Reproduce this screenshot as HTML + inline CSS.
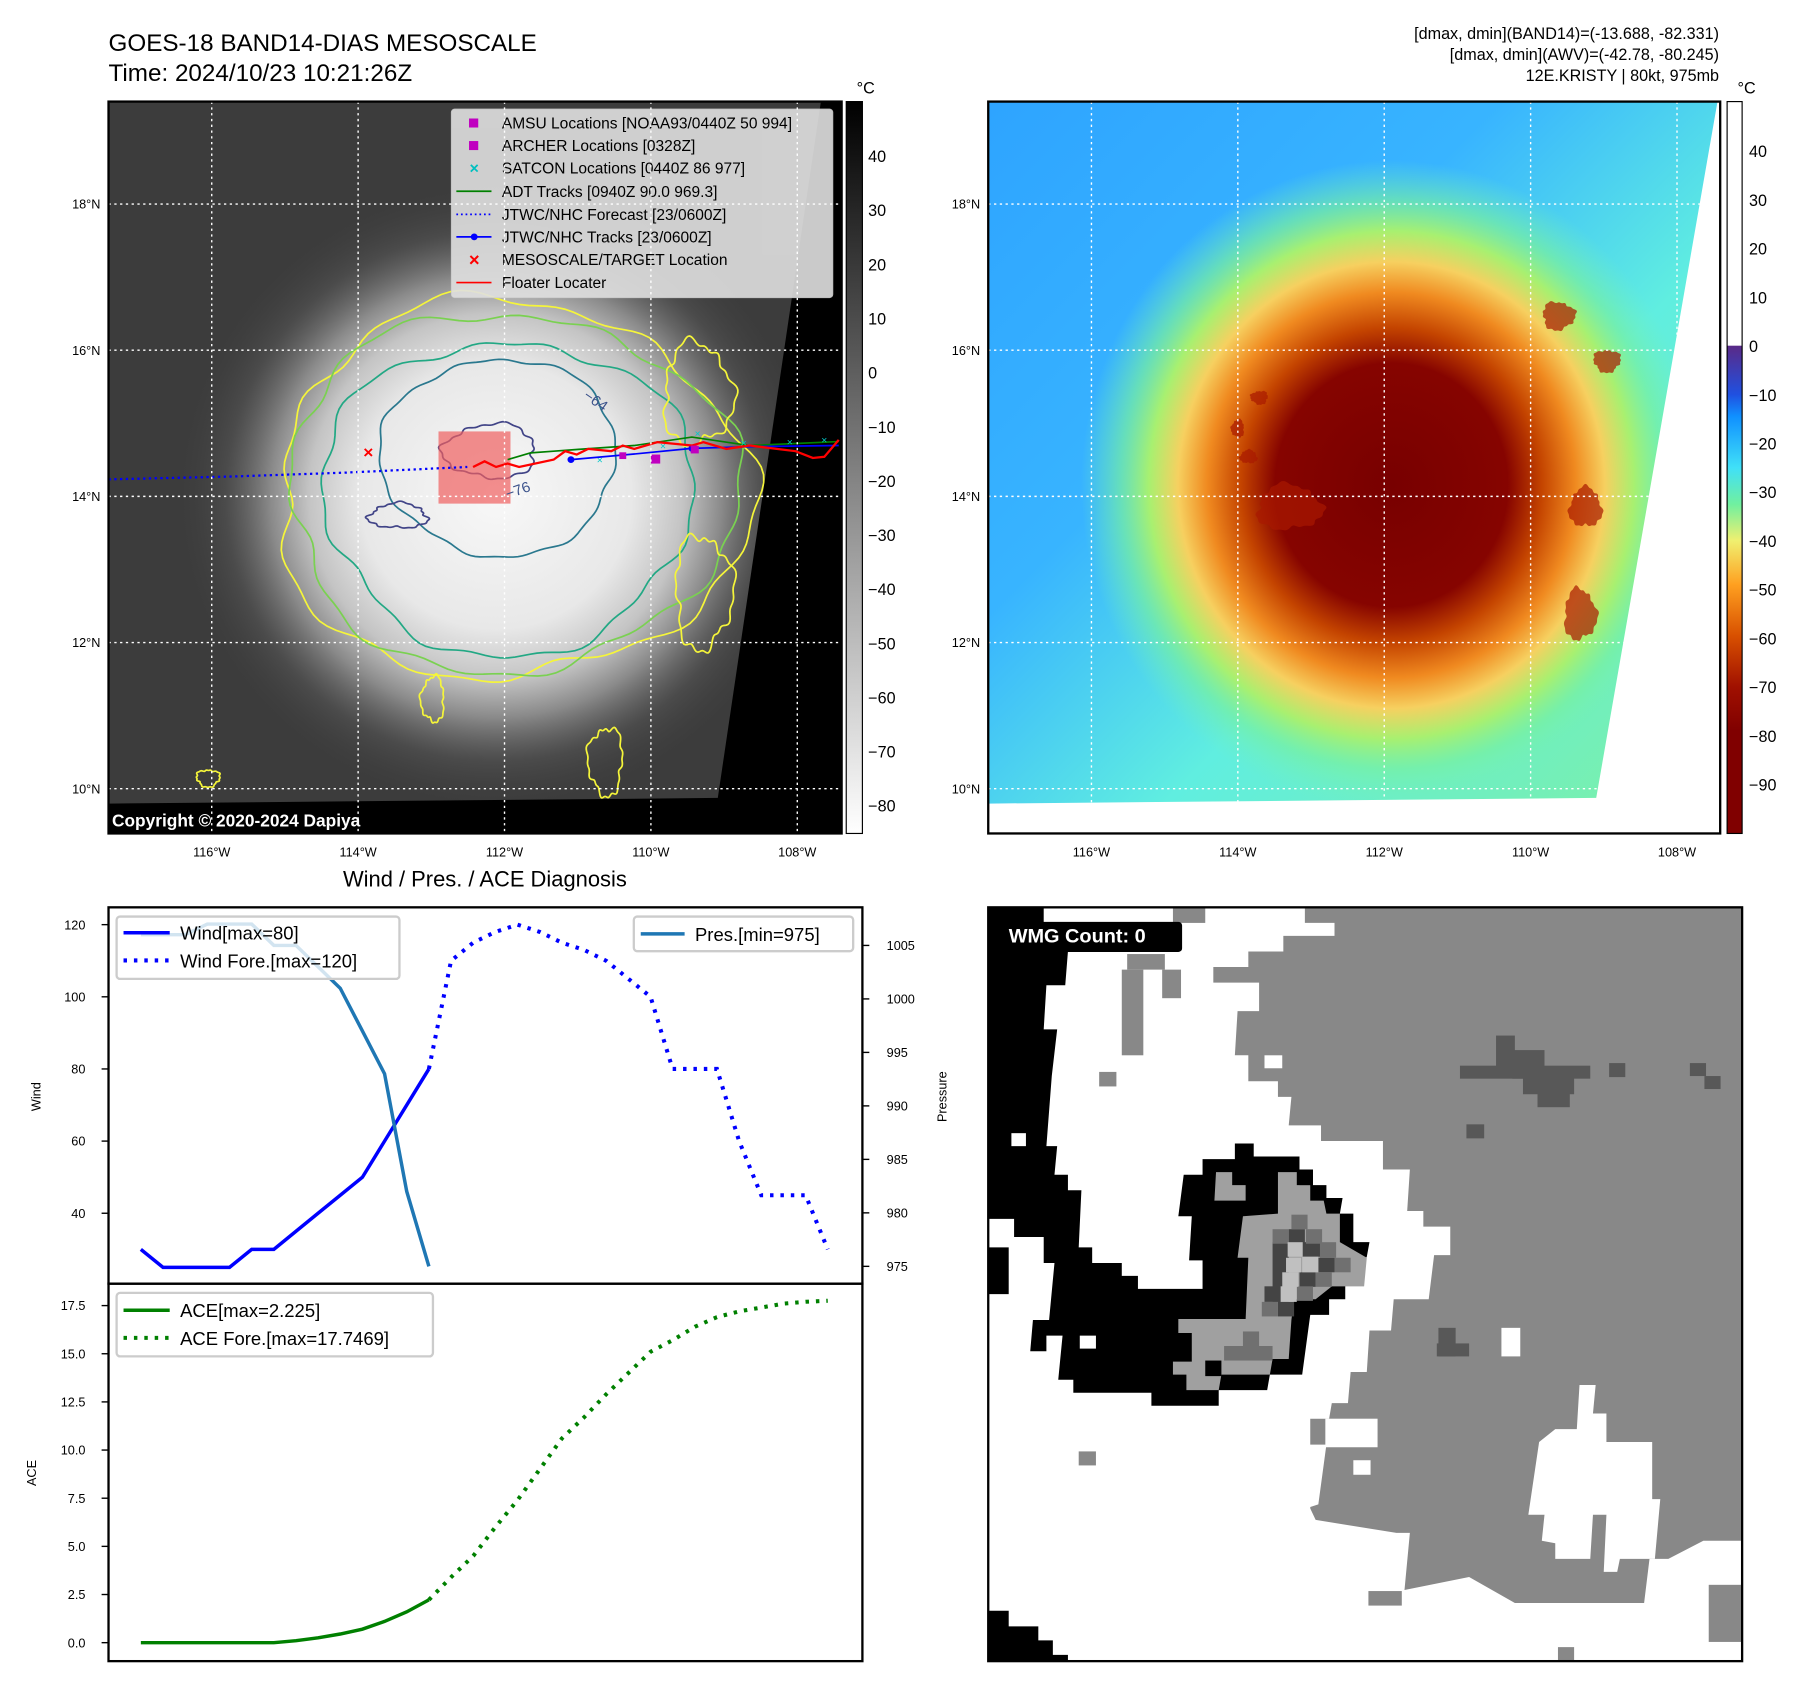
<!DOCTYPE html>
<html><head><meta charset="utf-8"><title>GOES-18 BAND14 KRISTY</title>
<style>html,body{margin:0;padding:0;background:#fff}svg{display:block;font-family:"Liberation Sans","DejaVu Sans",sans-serif}</style>
</head><body>
<svg id="root" width="1801" height="1690" viewBox="0 0 1560 1464" preserveAspectRatio="none" xmlns="http://www.w3.org/2000/svg">
<defs>
<radialGradient id="g1" cx="860" cy="880" r="560" gradientUnits="userSpaceOnUse">
<stop offset="0" stop-color="#f8f8f8"/><stop offset="0.42" stop-color="#e8e8e8"/><stop offset="0.58" stop-color="#c4c4c4"/><stop offset="0.7" stop-color="#8a8a8a"/><stop offset="0.84" stop-color="#555" stop-opacity="0.6"/><stop offset="1" stop-color="#3c3c3c" stop-opacity="0"/></radialGradient>
<linearGradient id="g2base" x1="0" y1="0" x2="1" y2="1">
<stop offset="0" stop-color="#2ea4ff"/><stop offset="0.35" stop-color="#38b4ff"/><stop offset="0.6" stop-color="#60eee0"/><stop offset="1" stop-color="#80f0a0"/></linearGradient>
<radialGradient id="g2" cx="790" cy="860" r="900" gradientUnits="userSpaceOnUse">
<stop offset="0" stop-color="#780000"/><stop offset="0.24" stop-color="#860400"/><stop offset="0.31" stop-color="#c44400"/><stop offset="0.38" stop-color="#f08a20"/><stop offset="0.44" stop-color="#f6d060"/><stop offset="0.5" stop-color="#a8f070"/><stop offset="0.56" stop-color="#78f0a0" stop-opacity="0.7"/><stop offset="0.64" stop-color="#70f0c0" stop-opacity="0"/></radialGradient>
<linearGradient id="cb1" x1="0" y1="0" x2="0" y2="1"><stop offset="0" stop-color="#000"/><stop offset="1" stop-color="#fff"/></linearGradient>
<linearGradient id="cb2" x1="0" y1="0" x2="0" y2="1">
<stop offset="0" stop-color="#fff"/><stop offset="0.333" stop-color="#fff"/><stop offset="0.334" stop-color="#5a2a88"/><stop offset="0.4" stop-color="#2050e0"/><stop offset="0.43" stop-color="#1090ff"/><stop offset="0.5" stop-color="#40e0f8"/><stop offset="0.55" stop-color="#70f0a0"/><stop offset="0.6" stop-color="#f0f070"/><stop offset="0.66" stop-color="#ffa020"/><stop offset="0.73" stop-color="#d85000"/><stop offset="0.8" stop-color="#a01000"/><stop offset="0.86" stop-color="#800000"/><stop offset="1" stop-color="#800000"/></linearGradient>
</defs>

<text x="94" y="44" font-size="21">GOES-18 BAND14-DIAS MESOSCALE</text>
<text x="94" y="70" font-size="21">Time: 2024/10/23 10:21:26Z</text>
<g font-size="14" text-anchor="end">
<text x="1489" y="34">[dmax, dmin](BAND14)=(-13.688, -82.331)</text>
<text x="1489" y="52">[dmax, dmin](AWV)=(-42.78, -80.245)</text>
<text x="1489" y="70">12E.KRISTY | 80kt, 975mb</text></g>

<svg id="map1" x="94" y="88" width="635" height="634" viewBox="187 180 1273 1298" preserveAspectRatio="none">
<rect x="187" y="180" width="1273" height="1298" fill="#3c3c3c"/>
<circle cx="860" cy="880" r="560" fill="url(#g1)"/>
<g id="contours1" fill="none" stroke-width="3"></g>
<polygon points="1424,180 1460,180 1460,1478 187,1478 187,1425 1245,1415" fill="#000"/>
<rect x="760" y="765" width="125" height="128" fill="#f06060" opacity="0.7"/>
<polyline points="187,850 400,845 600,838 810,828" fill="none" stroke="#0000ff" stroke-width="4" stroke-dasharray="4,6"/>
<polyline points="880,815 920,803 960,800 1000,797 1100,790 1200,775 1300,790 1455,783" fill="none" stroke="#008000" stroke-width="3"/>
<polyline points="990,815 1100,805 1200,795 1300,792 1455,790" fill="none" stroke="#0000ff" stroke-width="3"/>
<circle cx="990" cy="815" r="6" fill="#0000ff"/><circle cx="1200" cy="795" r="6" fill="#0000ff"/>
<polyline points="820,828 840,818 860,828 880,822 900,828 960,815 980,800 1000,806 1020,796 1060,800 1080,790 1100,796 1140,784 1200,790 1220,784 1260,796 1300,790 1380,800 1410,812 1430,810 1455,780" fill="none" stroke="#ff0000" stroke-width="4"/>
<g fill="#00c8c8" font-size="18" text-anchor="middle"><text x="1040" y="822">×</text><text x="1150" y="797">×</text><text x="1210" y="775">×</text><text x="1290" y="792">×</text><text x="1370" y="790">×</text><text x="1430" y="786">×</text></g>
<g fill="#c000c0"><rect x="1129" y="806" width="16" height="16"/><rect x="1074" y="802" width="12" height="12"/><rect x="1198" y="790" width="14" height="14"/></g>
<text x="638" y="812" fill="#ff0000" font-size="30" font-weight="bold" text-anchor="middle">×</text>
<text x="1010" y="705" fill="#3b528b" font-size="26" transform="rotate(35 1010 705)">−64</text>
<text x="880" y="885" fill="#3b528b" font-size="26" transform="rotate(-20 880 885)">−76</text>
<g>
<rect x="782" y="193" width="663" height="335" rx="6" fill="#e0e0e0" opacity="0.9" stroke="#c8c8c8"/>
<g font-size="27">
<rect x="813" y="210" width="16" height="16" fill="#c000c0"/><text x="870" y="228">AMSU Locations [NOAA93/0440Z 50 994]</text>
<rect x="813" y="250" width="16" height="16" fill="#c000c0"/><text x="870" y="268">ARCHER Locations [0328Z]</text>
<text x="822" y="308" fill="#00c0c0" text-anchor="middle" font-size="28" font-weight="bold">×</text><text x="870" y="308">SATCON Locations [0440Z 86 977]</text>
<line x1="791" y1="339" x2="852" y2="339" stroke="#008000" stroke-width="3"/><text x="870" y="349">ADT Tracks [0940Z 90.0 969.3]</text>
<line x1="791" y1="380" x2="852" y2="380" stroke="#0000ff" stroke-width="3" stroke-dasharray="3,5"/><text x="870" y="390">JTWC/NHC Forecast [23/0600Z]</text>
<line x1="791" y1="420" x2="852" y2="420" stroke="#0000ff" stroke-width="3"/><circle cx="822" cy="420" r="6" fill="#0000ff"/><text x="870" y="430">JTWC/NHC Tracks [23/0600Z]</text>
<text x="822" y="472" fill="#ff0000" text-anchor="middle" font-size="32" font-weight="bold">×</text><text x="870" y="470">MESOSCALE/TARGET Location</text>
<line x1="791" y1="501" x2="852" y2="501" stroke="#ff0000" stroke-width="3"/><text x="870" y="511">Floater Locater</text>
</g></g>
</svg>
<text x="97" y="716" fill="#fff" font-size="15" font-weight="bold">Copyright © 2020-2024 Dapiya</text>

<svg id="map2" x="856" y="88" width="634" height="634" viewBox="42 180 1358 1298" preserveAspectRatio="none">
<rect x="42" y="180" width="1358" height="1298" fill="url(#g2base)"/>
<rect x="42" y="180" width="1358" height="1298" fill="url(#g2)"/>
<g id="blobs2"></g>
<polygon points="1395,180 1400,180 1400,1478 42,1478 42,1425 1170,1415" fill="#fff"/>
</svg>

<g id="grid" stroke="#fff" stroke-width="1.2" stroke-dasharray="2,3"></g>
<rect x="94" y="88" width="635" height="634" fill="none" stroke="#000" stroke-width="2"/>
<rect x="856" y="88" width="634" height="634" fill="none" stroke="#000" stroke-width="2"/>
<g id="maplabels" font-size="11"></g>

<rect x="733" y="88" width="14" height="634" fill="url(#cb1)" stroke="#000" stroke-width="1"/>
<text x="742" y="81" font-size="14">°C</text>
<rect x="1496" y="88" width="13" height="634" fill="url(#cb2)" stroke="#000" stroke-width="1"/>
<text x="1505" y="81" font-size="14">°C</text>
<g id="cblabels" font-size="14"></g>

<text x="420" y="768" font-size="19" text-anchor="middle">Wind / Pres. / ACE Diagnosis</text>
<g id="chart"></g>
<rect x="94" y="786" width="653" height="326" fill="none" stroke="#000" stroke-width="2"/>
<rect x="94" y="1112" width="653" height="327" fill="none" stroke="#000" stroke-width="2"/>
<text x="35" y="950" font-size="11" text-anchor="middle" transform="rotate(-90 35 950)">Wind</text>
<text x="820" y="950" font-size="11" text-anchor="middle" transform="rotate(-90 820 950)">Pressure</text>
<text x="31" y="1276" font-size="11" text-anchor="middle" transform="rotate(-90 31 1276)">ACE</text>
<g>
<rect x="101" y="794" width="245" height="54" rx="3" fill="#fff" fill-opacity="0.8" stroke="#ccc" stroke-width="2"/>
<line x1="107" y1="808" x2="147" y2="808" stroke="#0000ff" stroke-width="3"/><text x="156" y="814" font-size="16">Wind[max=80]</text>
<line x1="107" y1="832" x2="147" y2="832" stroke="#0000ff" stroke-width="3.5" stroke-dasharray="3,6"/><text x="156" y="838" font-size="16">Wind Fore.[max=120]</text></g>
<g>
<rect x="549" y="794" width="190" height="30" rx="3" fill="#fff" fill-opacity="0.8" stroke="#ccc" stroke-width="2"/>
<line x1="555" y1="809" x2="593" y2="809" stroke="#1f77b4" stroke-width="3"/><text x="602" y="815" font-size="16">Pres.[min=975]</text></g>
<g>
<rect x="101" y="1120" width="274" height="55" rx="3" fill="#fff" fill-opacity="0.8" stroke="#ccc" stroke-width="2"/>
<line x1="107" y1="1135" x2="147" y2="1135" stroke="#008000" stroke-width="3"/><text x="156" y="1141" font-size="16">ACE[max=2.225]</text>
<line x1="107" y1="1159" x2="147" y2="1159" stroke="#008000" stroke-width="3.5" stroke-dasharray="3,6"/><text x="156" y="1165" font-size="16">ACE Fore.[max=17.7469]</text></g>

<svg id="wmg" x="856" y="786" width="653" height="653" viewBox="42 45 1400 1452" preserveAspectRatio="none">
<rect x="42" y="45" width="1400" height="1452" fill="#888"/>
<path fill="#fff" d="M42,45 L630,45 L630,75 L685,75 L685,100 L590,100 L590,130 L525,130 L525,160 L460,160 L460,190 L545,190 L545,245 L505,245 L500,330 L525,330 L525,380 L580,380 L580,410 L605,410 L600,465 L660,465 L660,495 L775,495 L775,550 L825,550 L820,630 L850,630 L850,660 L900,660 L900,715 L870,715 L860,800 L795,800 L790,860 L750,860 L745,940 L715,940 L710,1000 L680,1000 L675,1030 L640,1030 L640,1080 L670,1080 L655,1195 L640,1200 L640,1280 L555,1280 L555,1195 L530,1195 L530,1170 L570,1170 L570,1140 L600,1140 L600,1170 L625,1170 L650,1225 L800,1250 L825,1250 L815,1360 L935,1335 L1020,1385 L1260,1385 L1270,1300 L1305,1300 L1370,1265 L1440,1265 L1440,1497 L42,1497 Z"/>
<path fill="#fff" d="M1065,1075 L1095,1050 L1135,1050 L1140,965 L1170,965 L1165,1020 L1190,1020 L1190,1075 L1275,1075 L1275,1185 L1290,1185 L1280,1300 L1215,1300 L1210,1325 L1185,1325 L1190,1215 L1165,1215 L1160,1300 L1095,1300 L1095,1270 L1070,1265 L1075,1215 L1045,1215 Z"/>
<g fill="#fff"><rect x="555" y="330" width="33" height="25"/><rect x="995" y="855" width="35" height="55"/><rect x="720" y="1110" width="32" height="28"/><rect x="668" y="1030" width="97" height="55"/></g>
<g fill="#888"><rect x="365" y="165" width="35" height="55"/><rect x="300" y="135" width="70" height="30"/><rect x="290" y="165" width="40" height="165"/><rect x="248" y="362" width="32" height="28"/><rect x="210" y="1093" width="32" height="27"/><rect x="748" y="1362" width="62" height="28"/><rect x="1100" y="1470" width="30" height="27"/><rect x="1380" y="1350" width="60" height="110"/><rect x="385" y="45" width="60" height="30"/></g>
<g fill="#585858"><rect x="918" y="350" width="242" height="25"/><rect x="985" y="292" width="35" height="60"/><rect x="1015" y="320" width="60" height="55"/><rect x="1035" y="370" width="95" height="35"/><rect x="1062" y="400" width="60" height="30"/><rect x="1195" y="345" width="30" height="27"/><rect x="1345" y="345" width="30" height="25"/><rect x="1372" y="370" width="30" height="25"/><rect x="930" y="463" width="33" height="27"/><rect x="878" y="855" width="32" height="55"/><rect x="875" y="885" width="60" height="25"/></g>
<path fill="#000" d="M42,45 L145,45 L145,130 L190,130 L185,195 L150,195 L145,280 L170,280 L160,370 L150,505 L170,505 L165,560 L190,560 L190,590 L215,590 L210,700 L235,700 L235,730 L290,730 L290,755 L320,755 L320,780 L440,780 L440,725 L415,725 L420,640 L395,640 L405,560 L440,560 L440,530 L500,530 L500,500 L535,500 L535,525 L620,525 L620,550 L645,550 L645,580 L670,580 L670,605 L700,605 L695,635 L720,635 L720,690 L750,690 L745,718 L705,775 L705,800 L675,800 L675,830 L640,830 L625,945 L565,945 L560,975 L470,975 L470,1005 L345,1005 L345,980 L200,980 L200,955 L172,955 L180,870 L150,870 L150,900 L120,900 L125,840 L155,840 L165,730 L145,730 L145,680 L90,680 L90,645 L42,645 Z"/>
<rect x="85" y="480" width="27" height="25" fill="#fff"/><rect x="212" y="870" width="30" height="25" fill="#fff"/>
<path fill="#000" d="M42,700 L80,700 L80,790 L42,790 Z"/>
<path fill="#a0a0a0" d="M580,555 L615,555 L615,580 L640,580 L640,610 L665,610 L670,635 L695,635 L695,690 L745,720 L740,775 L680,775 L650,800 L610,800 L605,840 L600,915 L570,915 L565,945 L475,945 L470,975 L410,975 L410,945 L385,945 L385,920 L420,920 L420,865 L395,865 L395,838 L520,838 L525,720 L505,720 L515,640 L580,635 Z"/>
<path fill="#a0a0a0" d="M465,555 L495,555 L495,580 L520,580 L520,610 L462,610 Z"/>
<g fill="#444"><rect x="570" y="690" width="30" height="115"/><rect x="555" y="775" width="30" height="30"/><rect x="600" y="665" width="30" height="28"/><rect x="625" y="690" width="35" height="28"/><rect x="655" y="720" width="30" height="28"/><rect x="620" y="748" width="30" height="28"/><rect x="580" y="805" width="30" height="28"/></g>
<g fill="#707070"><rect x="570" y="665" width="30" height="28"/><rect x="605" y="637" width="30" height="28"/><rect x="632" y="665" width="30" height="28"/><rect x="658" y="690" width="30" height="30"/><rect x="685" y="720" width="30" height="28"/><rect x="650" y="748" width="30" height="28"/><rect x="615" y="775" width="30" height="28"/><rect x="480" y="890" width="90" height="28"/><rect x="515" y="862" width="30" height="28"/><rect x="550" y="805" width="30" height="28"/></g>
<g fill="#c0c0c0"><rect x="598" y="690" width="28" height="28"/><rect x="625" y="718" width="30" height="30"/><rect x="588" y="748" width="30" height="28"/><rect x="585" y="775" width="30" height="30"/><rect x="595" y="720" width="28" height="28"/></g>
<g fill="#000"><rect x="445" y="918" width="30" height="30"/><rect x="620" y="550" width="25" height="30"/></g>
<path fill="#000" d="M42,1400 L80,1400 L80,1430 L135,1430 L135,1457 L162,1457 L162,1485 L190,1485 L190,1497 L42,1497 Z"/>
<rect x="75" y="73" width="327" height="58" rx="7" fill="#000"/>
<text x="80" y="113" fill="#fff" font-size="37" font-weight="bold">WMG Count: 0</text>
</svg>
<rect x="856" y="786" width="653" height="653" fill="none" stroke="#000" stroke-width="2"/>
</svg>

<script>
const obsIdx = [0,1,2,3,4,5,6,7,8,9,10,11,12,13];
const fcIdx = [13,14,15,16,17,18,19,20,21,22,23,24,25,26,27,28,29,30,31];
const windObs = [30,25,25,25,25,30,30,35,40,45,50,60,70,80];
const windFc = [80,110,115,118,120,118,115,113,110,105,100,80,80,80,60,45,45,45,30];
const presObs = [1006,1006,1006,1007,1007,1007,1005,1005,1003,1001,997,993,982,975];
const aceObs = [0,0,0,0,0,0,0,0.1,0.25,0.45,0.7,1.1,1.6,2.225];
const aceFc = [2.225,3.4,4.5,6.0,7.4,9.0,10.6,11.7,12.9,14.0,15.1,15.7,16.4,16.9,17.2,17.4,17.6,17.7,17.75];
const windTicks = [40,60,80,100,120];
const presTicks = [975,980,985,990,995,1000,1005];
const aceTicks = [0,2.5,5,7.5,10,12.5,15,17.5];
const latLabels = ["18°N","16°N","14°N","12°N","10°N"];
const latVals = [18,16,14,12,10];
const lonLabels = ["116°W","114°W","112°W","110°W","108°W"];
const lonVals = [116,114,112,110,108];
const cb1Labels = [40,30,20,10,0,-10,-20,-30,-40,-50,-60,-70,-80];
const cb2Labels = [40,30,20,10,0,-10,-20,-30,-40,-50,-60,-70,-80,-90];

const NS="http://www.w3.org/2000/svg";
function mk(tag,attrs,parent){const e=document.createElementNS(NS,tag);for(const k in attrs)e.setAttribute(k,attrs[k]);parent.appendChild(e);return e;}
const xS=i=>122+i*(595/31);
const yW=v=>801+(120-v)*(250/80);
const yP=v=>819+(1005-v)*(278/30);
const yA=v=>1423-v*(292/17.5);
const chart=document.getElementById('chart');
function line(idx,vals,ys,color,dash,name){
  const p=mk('polyline',{points:idx.map((i,k)=>xS(i).toFixed(1)+','+ys(vals[k]).toFixed(1)).join(' '),fill:'none',stroke:color,'stroke-width':dash?3.5:3,'stroke-dasharray':dash?'3,6':'none'},chart);
  
  
}
line(obsIdx,windObs,yW,'#0000ff',false,'wind-observed-line');
line(fcIdx,windFc,yW,'#0000ff',true,'wind-forecast-line');
line(obsIdx,presObs,yP,'#1f77b4',false,'pressure-line');
line(obsIdx,aceObs,yA,'#008000',false,'ace-observed-line');
line(fcIdx,aceFc,yA,'#008000',true,'ace-forecast-line');
function ticks(vals,ys,side,fmt){
  vals.forEach(v=>{const y=ys(v);
    if(side==='L'){mk('line',{x1:88,y1:y,x2:94,y2:y,stroke:'#000','stroke-width':1.2},chart);
      const t=mk('text',{x:74,y:y+4,'font-size':11,'text-anchor':'end'},chart);t.textContent=fmt(v);
      
      }
    else{mk('line',{x1:747,y1:y,x2:753,y2:y,stroke:'#000','stroke-width':1.2},chart);
      const t=mk('text',{x:768,y:y+4,'font-size':11},chart);t.textContent=fmt(v);
      
      }
  });
}
ticks(windTicks,yW,'L',v=>String(v));
ticks(presTicks,yP,'R',v=>String(v));
ticks(aceTicks,yA,'L',v=>v.toFixed(1));

const grid=document.getElementById('grid'), ml=document.getElementById('maplabels');
const latY=v=>430-(v-14)*63.3, lonX=v=>437-(v-112)*63.4;
[0,762].forEach(off=>{
  latVals.forEach((v,k)=>{const y=latY(v);mk('line',{x1:94+off,y1:y,x2:729+off,y2:y},grid);
    const t=mk('text',{x:87+off,y:y+4,'text-anchor':'end'},ml);t.textContent=latLabels[k];
    
    });
  lonVals.forEach((v,k)=>{const x=lonX(v)+off;mk('line',{x1:x,y1:88,x2:x,y2:722},grid);
    const t=mk('text',{x:x,y:742,'text-anchor':'middle'},ml);t.textContent=lonLabels[k];
    
    });
});
const cbl=document.getElementById('cblabels');
cb1Labels.forEach(v=>{const t=mk('text',{x:752,y:323-v*4.69+5},cbl);t.textContent=v<0?'\u2212'+(-v):String(v);
  
  });
cb2Labels.forEach(v=>{const t=mk('text',{x:1515,y:300-v*4.22+5},cbl);t.textContent=v<0?'\u2212'+(-v):String(v);
  
  });

function wob(cx,cy,rx,ry,amp,s){let d='';for(let k=0;k<=160;k++){const t=k/160*Math.PI*2;
  const r=1+amp*(0.5*Math.sin(3*t+s)+0.3*Math.sin(7*t+2*s)+0.2*Math.sin(15*t+3*s));
  d+=(k?'L':'M')+(cx+rx*r*Math.cos(t)).toFixed(1)+','+(cy+ry*r*Math.sin(t)).toFixed(1);}return d+'Z';}
const c1=document.getElementById('contours1');
[[885,870,410,335,0.09,1,'#f5f53a'],[885,872,390,318,0.08,2,'#7ad151'],[880,880,322,278,0.08,3,'#22a884'],[865,810,205,175,0.06,4,'#2a788e'],[850,800,80,48,0.15,5,'#414487'],[690,915,50,22,0.2,6,'#414487']].forEach(a=>{
  mk('path',{d:wob(a[0],a[1],a[2],a[3],a[4],a[5]),stroke:a[6]},c1);});
[[1210,700,60,90,0.2,1],[1220,1050,50,100,0.2,2],[360,1380,20,15,0.2,3],[1050,1350,30,60,0.2,4],[750,1240,20,40,0.2,5]].forEach(a=>{
  mk('path',{d:wob(a[0],a[1],a[2],a[3],a[4],a[5]),stroke:'#f5f53a'},c1);});
const b2=document.getElementById('blobs2');
[[1150,900,30,35],[1140,1090,30,45],[1100,560,30,25],[1190,640,25,20],[545,705,16,12],[505,760,12,16],[525,810,16,12],[600,900,60,40]].forEach((a,k)=>{
  mk('path',{d:wob(a[0],a[1],a[2],a[3],0.2,k),fill:'#a81800',opacity:0.7},b2);});
</script>
</body></html>
